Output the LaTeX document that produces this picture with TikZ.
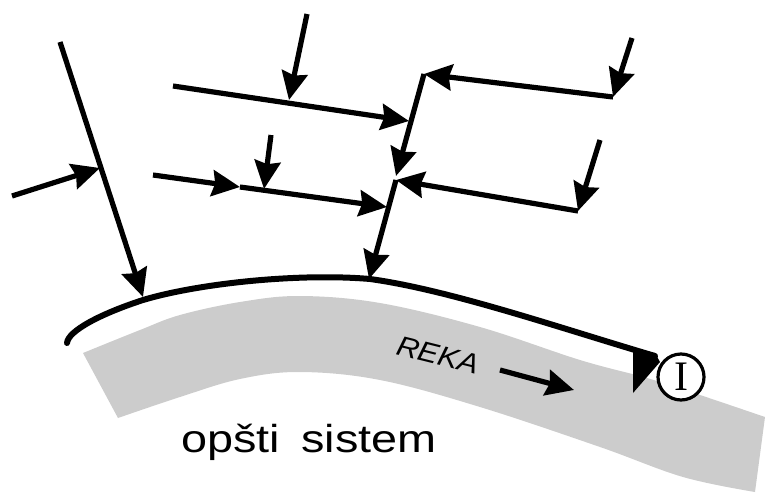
\documentclass[tikz,border=0pt]{standalone}
\usepackage{fontspec}
\newfontfamily\sansfam{Liberation Sans}
\newfontfamily\seriffam{Liberation Serif}
\usetikzlibrary{arrows.meta}
\definecolor{riverfill}{RGB}{204,204,204}
\tikzset{
  flow/.style={line width=5.2pt, -{Stealth[length=28pt,width=26pt,inset=3pt]}},
  bank/.style={line width=6pt, line cap=round},
}
\begin{document}
\begin{tikzpicture}[x=1pt,y=-1pt]
\useasboundingbox (0,0) rectangle (765,495);

% river band
\fill[riverfill] plot[smooth, tension=0.6] coordinates {(83,353) (140,330) (180,315) (240,302) (300,296) (380,303) (480,327) (580,360) (647,378) (700,395) (765,417)}
  -- (755,492)
  -- plot[smooth, tension=0.6] coordinates {(755,492) (683,477) (600,447) (480,407) (380,380) (300,372) (240,379) (180,397) (118,418)}
  -- cycle;

% river bank
\draw[bank] (67,343) .. controls (68,331) and (100,314) .. (143,300)
  .. controls (200,283) and (300,273) .. (370,279)
  .. controls (450,290) and (560,328) .. (655,356);
\fill (633,350) -- (655,353) -- (660,362) -- (633,393) -- cycle;

% outlet
\node[draw, circle, line width=3.2pt, fill=white, minimum size=46pt, inner sep=0pt] (out) at (681,377) {\fontsize{42}{42}\seriffam I};

% junction points
\coordinate (a1) at (60,42);
\coordinate (a2) at (143,297);
\coordinate (b1) at (12,196);
\coordinate (b2) at (100,168);
\coordinate (c1) at (173,86);
\coordinate (c2) at (409,121);
\coordinate (d1) at (307,14);
\coordinate (d2) at (289,100);
\coordinate (e1) at (153,175);
\coordinate (e2) at (240,187);
\coordinate (f1) at (271,135);
\coordinate (f2) at (264,189);
\coordinate (g2) at (387,207);
\coordinate (h) at (424,74);
\coordinate (i) at (613,97);
\coordinate (j1) at (632,38);
\coordinate (k) at (396,176);
\coordinate (kk) at (396,180);
\coordinate (l) at (578,211);
\coordinate (m1) at (600,140);
\coordinate (n) at (369,279);
\coordinate (r1) at (500,370);
\coordinate (r2) at (574,390);

% tributary flows
\draw[flow] (a1) -- (a2);
\draw[flow] (b1) -- (b2);
\draw[flow] (c1) -- (c2);
\draw[flow] (d1) -- (d2);
\draw[flow] (e1) -- (e2);
\draw[flow] (f1) -- (f2);
\draw[flow] (e2) -- (g2);
\draw[flow] (i) -- (h);
\draw[flow] (j1) -- (i);
\draw[flow] (h) -- (k);
\draw[flow] (l) -- (kk);
\draw[flow] (m1) -- (l);
\draw[flow] (kk) -- (n);
\draw[flow] (r1) -- (r2);

% labels
\node[anchor=base west, rotate=-14, inner sep=0pt] (reka) at (395,354) {\scalebox{1.1}[1]{\fontsize{28}{28}\sansfam\itshape REKA}};
\node[anchor=base, inner sep=0pt] (sys) at (309,452) {\scalebox{1.2}[1]{\fontsize{39}{39}\sansfam opšti\hspace{0.45em}sistem}};
\end{tikzpicture}
\end{document}
